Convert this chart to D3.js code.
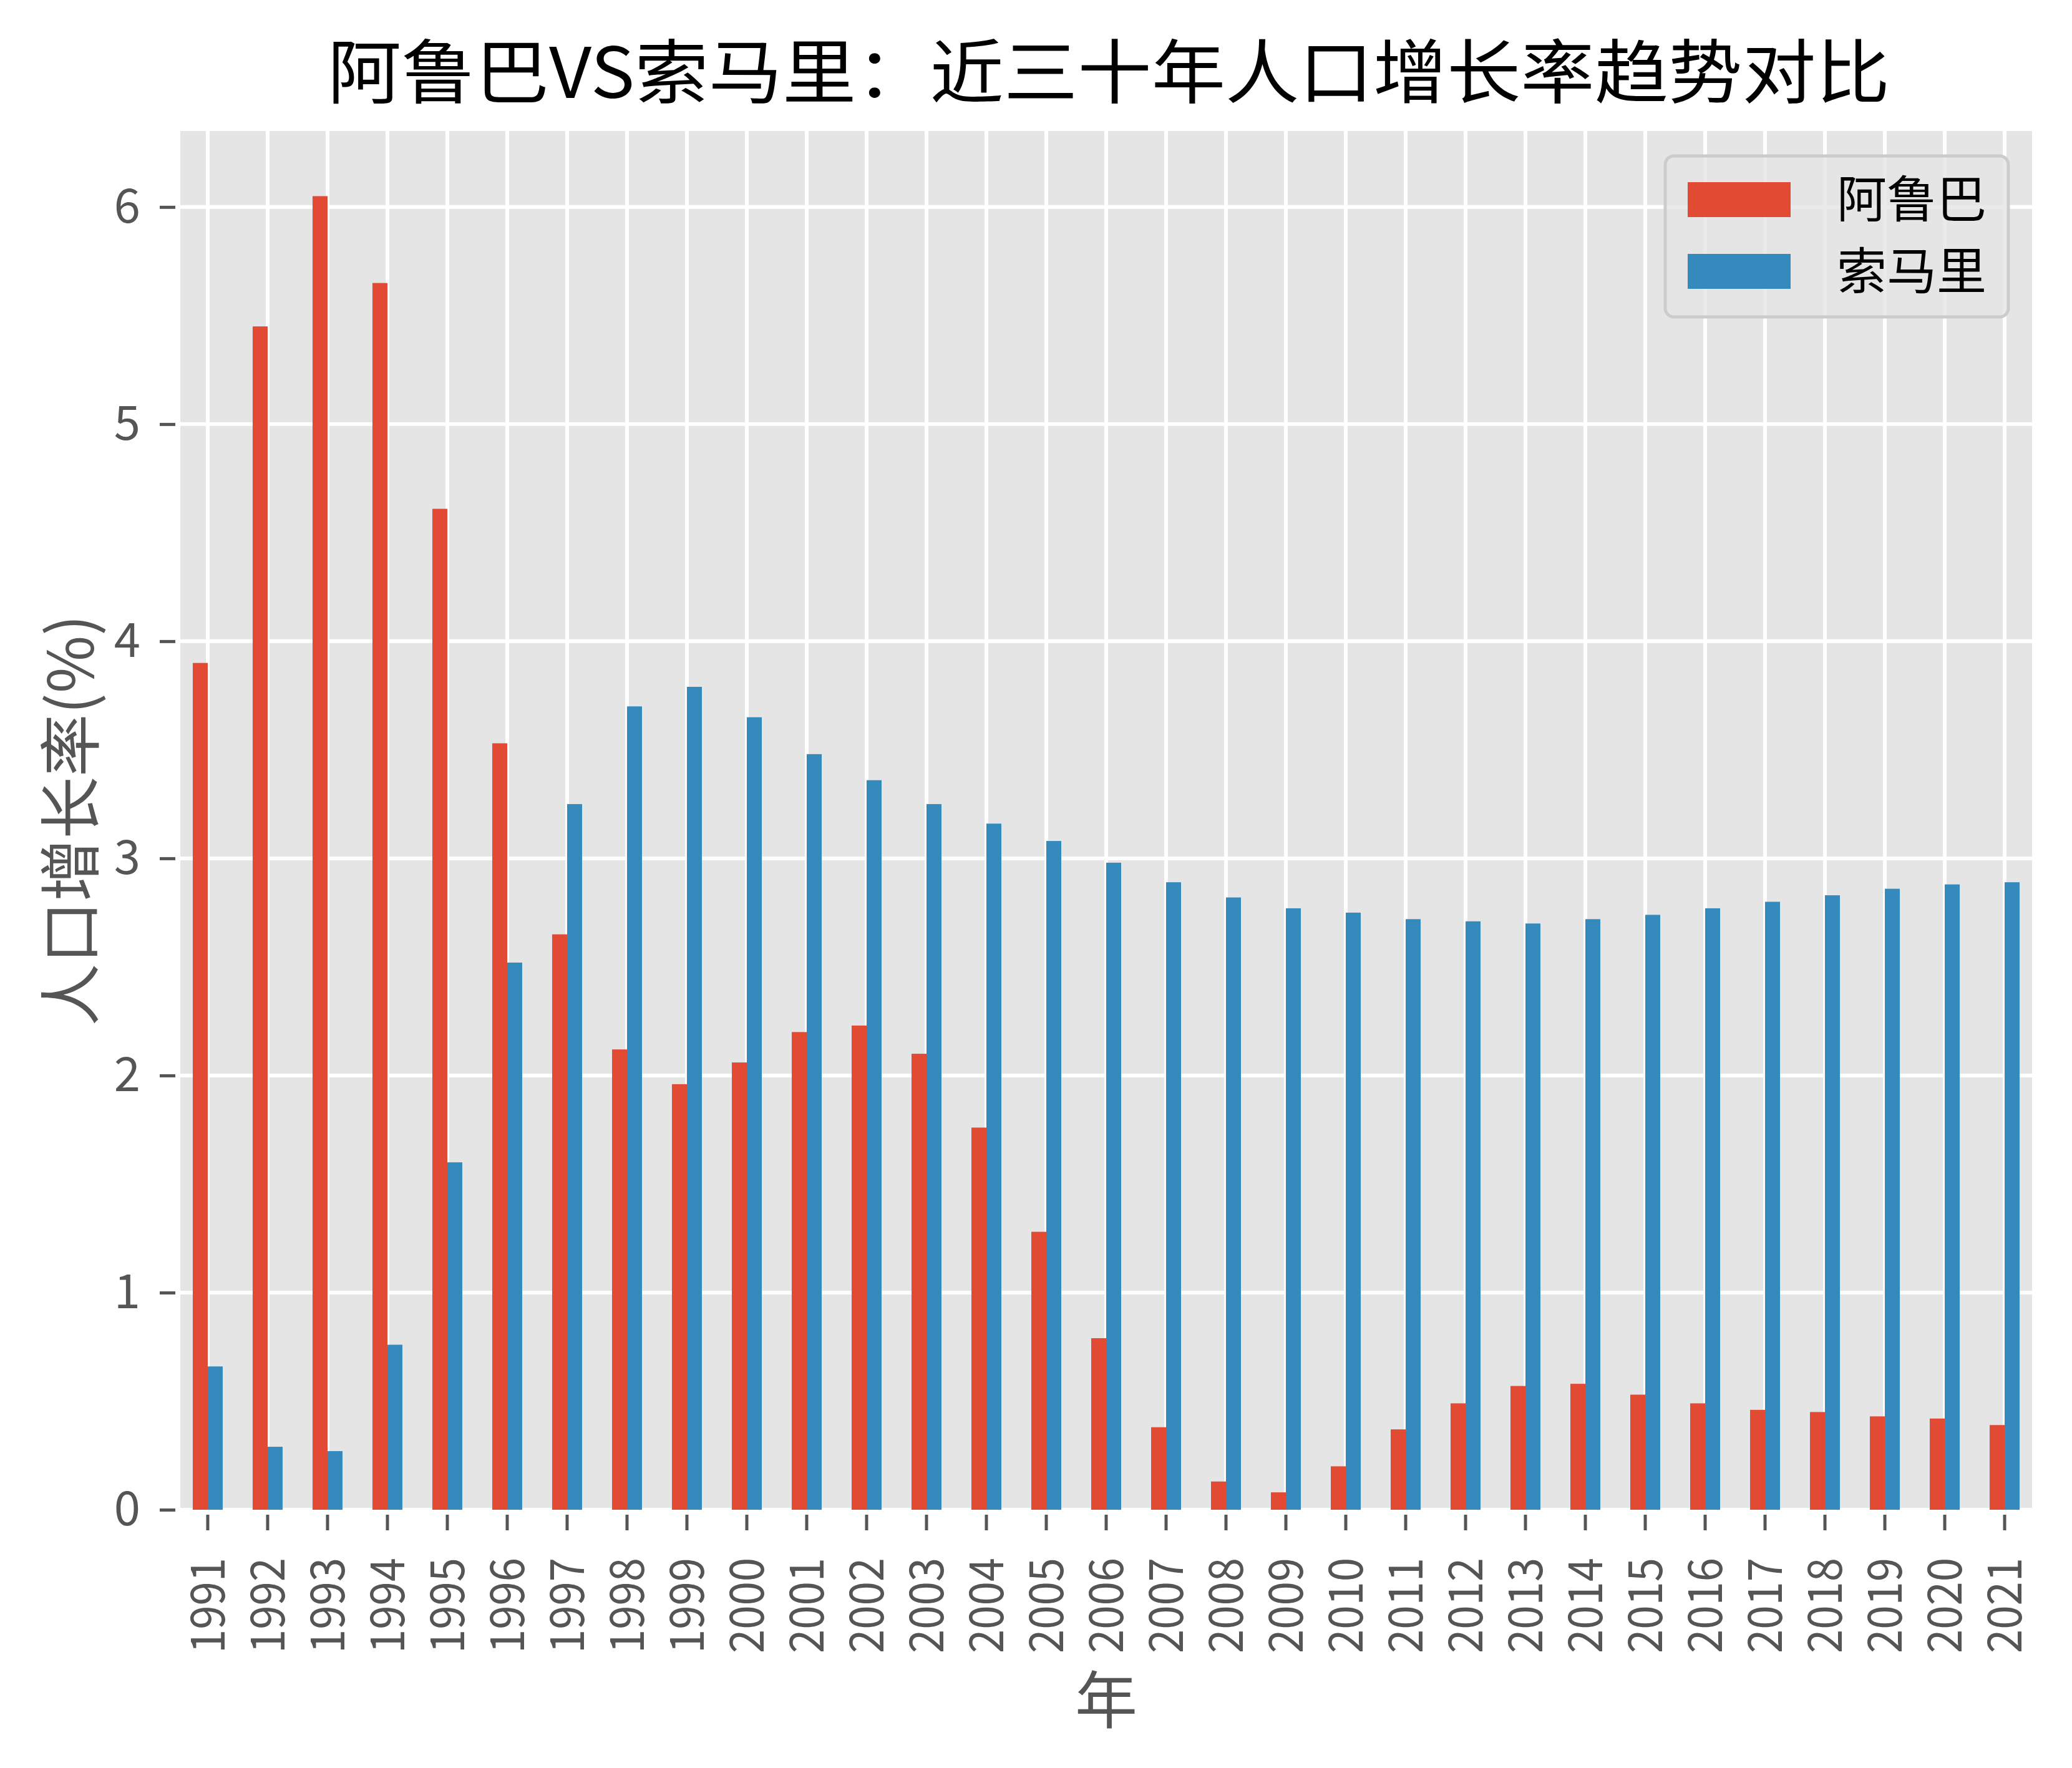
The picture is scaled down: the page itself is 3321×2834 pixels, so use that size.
<!DOCTYPE html>
<html><head><meta charset="utf-8">
<script src="https://cdn.jsdelivr.net/npm/d3@7"></script>
<style>
html,body{margin:0;padding:0;background:#fff;}
svg{display:block;}
</style></head>
<body>
<script>
const years = ["1991","1992","1993","1994","1995","1996","1997","1998","1999","2000","2001","2002","2003","2004","2005","2006","2007","2008","2009","2010","2011","2012","2013","2014","2015","2016","2017","2018","2019","2020","2021"];
const seriesNames = ["阿鲁巴","索马里"];
const aruba = [3.90,5.45,6.05,5.65,4.61,3.53,2.65,2.12,1.96,2.06,2.20,2.23,2.10,1.76,1.28,0.79,0.38,0.13,0.08,0.20,0.37,0.49,0.57,0.58,0.53,0.49,0.46,0.45,0.43,0.42,0.39];
const somalia = [0.66,0.29,0.27,0.76,1.60,2.52,3.25,3.70,3.79,3.65,3.48,3.36,3.25,3.16,3.08,2.98,2.89,2.82,2.77,2.75,2.72,2.71,2.70,2.72,2.74,2.77,2.80,2.83,2.86,2.88,2.89];
const yTicks = [0,1,2,3,4,5,6];
const titleText = "阿鲁巴VS索马里：近三十年人口增长率趋势对比";
const xLabel = "年";
const yLabel = "人口增长率(%)";
const colors = ["#E24A33","#348ABD"];

const W = 3321, H = 2834;
const m = {left:289, right:W-3257, top:210, bottom:H-2420};
const pw = W - m.left - m.right, ph = H - m.top - m.bottom;
const cjk = "'Noto Sans CJK SC','Noto Sans',sans-serif";

const svg = d3.select("body").append("svg").attr("width",W).attr("height",H);
svg.append("rect").attr("width",W).attr("height",H).attr("fill","#fff");
const g = svg.append("g").attr("transform",`translate(${m.left},${m.top})`);

const x = d3.scaleBand().domain(years).range([0,pw]).paddingInner(0.5).paddingOuter(0.208);
const x1 = d3.scaleBand().domain(seriesNames).range([0,x.bandwidth()]);
const y = d3.scaleLinear().domain([0,6.35]).range([ph,0]);

g.append("rect").attr("width",pw).attr("height",ph).attr("fill","#E5E5E5");

// grid
g.append("g").selectAll("line").data(yTicks).join("line")
  .attr("x1",0).attr("x2",pw).attr("y1",d=>y(d)).attr("y2",d=>y(d))
  .attr("stroke","#fff").attr("stroke-width",6);
g.append("g").selectAll("line").data(years).join("line")
  .attr("x1",d=>x(d)+x.bandwidth()/2).attr("x2",d=>x(d)+x.bandwidth()/2)
  .attr("y1",0).attr("y2",ph)
  .attr("stroke","#fff").attr("stroke-width",6);

const data = years.map((yr,i)=>({year:yr, vals:[aruba[i],somalia[i]]}));
const grp = g.append("g").selectAll("g").data(data).join("g")
  .attr("transform",d=>`translate(${x(d.year)},0)`);
grp.selectAll("rect").data(d=>d.vals.map((v,k)=>({k,v}))).join("rect")
  .attr("x",d=>x1(seriesNames[d.k])).attr("width",x1.bandwidth())
  .attr("y",d=>y(d.v)).attr("height",d=>ph-y(d.v))
  .attr("fill",d=>colors[d.k]);

// axes
const xAxis = g.append("g").attr("transform",`translate(0,${ph+8})`)
  .call(d3.axisBottom(x).tickSize(25).tickPadding(14));
xAxis.select(".domain").remove();
xAxis.selectAll(".tick line").attr("stroke","#555").attr("stroke-width",5);
xAxis.selectAll(".tick text")
  .attr("font-family",cjk).attr("font-size",76).attr("fill","#555")
  .attr("transform","rotate(-90)").attr("text-anchor","end")
  .attr("x",-69).attr("y",0).attr("dy","0.35em")
  .attr("textLength",153).attr("lengthAdjust","spacingAndGlyphs");

const yAxis = g.append("g").attr("transform",`translate(-8,0)`)
  .call(d3.axisLeft(y).tickValues(yTicks).tickFormat(d3.format("d")).tickSize(25).tickPadding(31));
yAxis.select(".domain").remove();
yAxis.selectAll(".tick line").attr("stroke","#555").attr("stroke-width",5);
yAxis.selectAll(".tick text").attr("font-family",cjk).attr("font-size",76).attr("fill","#555");

// labels
svg.append("text").attr("x",m.left+pw/2).attr("y",2762).attr("text-anchor","middle")
  .attr("font-family",cjk).attr("font-size",100).attr("fill","#555").text(xLabel);
svg.append("text").attr("transform",`translate(150,${m.top+ph/2}) rotate(-90)`)
  .attr("text-anchor","middle").attr("font-family",cjk).attr("font-size",100).attr("fill","#555").text(yLabel);
svg.append("text").attr("x",1777).attr("y",157).attr("text-anchor","middle")
  .attr("font-family",cjk).attr("font-size",112).attr("fill","#000")
  .attr("textLength",2504).attr("lengthAdjust","spacingAndGlyphs").text(titleText);

// legend
const lg = svg.append("g").attr("transform","translate(2669,250)");
lg.append("rect").attr("width",550).attr("height",258).attr("rx",14)
  .attr("fill","#E5E5E5").attr("fill-opacity",0.8).attr("stroke","#cccccc").attr("stroke-width",5);
const items = lg.selectAll("g").data(seriesNames).join("g")
  .attr("transform",(d,i)=>`translate(0,${42+i*115})`);
items.append("rect").attr("x",36).attr("width",165).attr("height",56).attr("fill",(d,i)=>colors[i]);
items.append("text").attr("x",275).attr("y",28).attr("dy","0.35em")
  .attr("font-family",cjk).attr("font-size",80).attr("fill","#000").text(d=>d);
</script>
</body></html>
